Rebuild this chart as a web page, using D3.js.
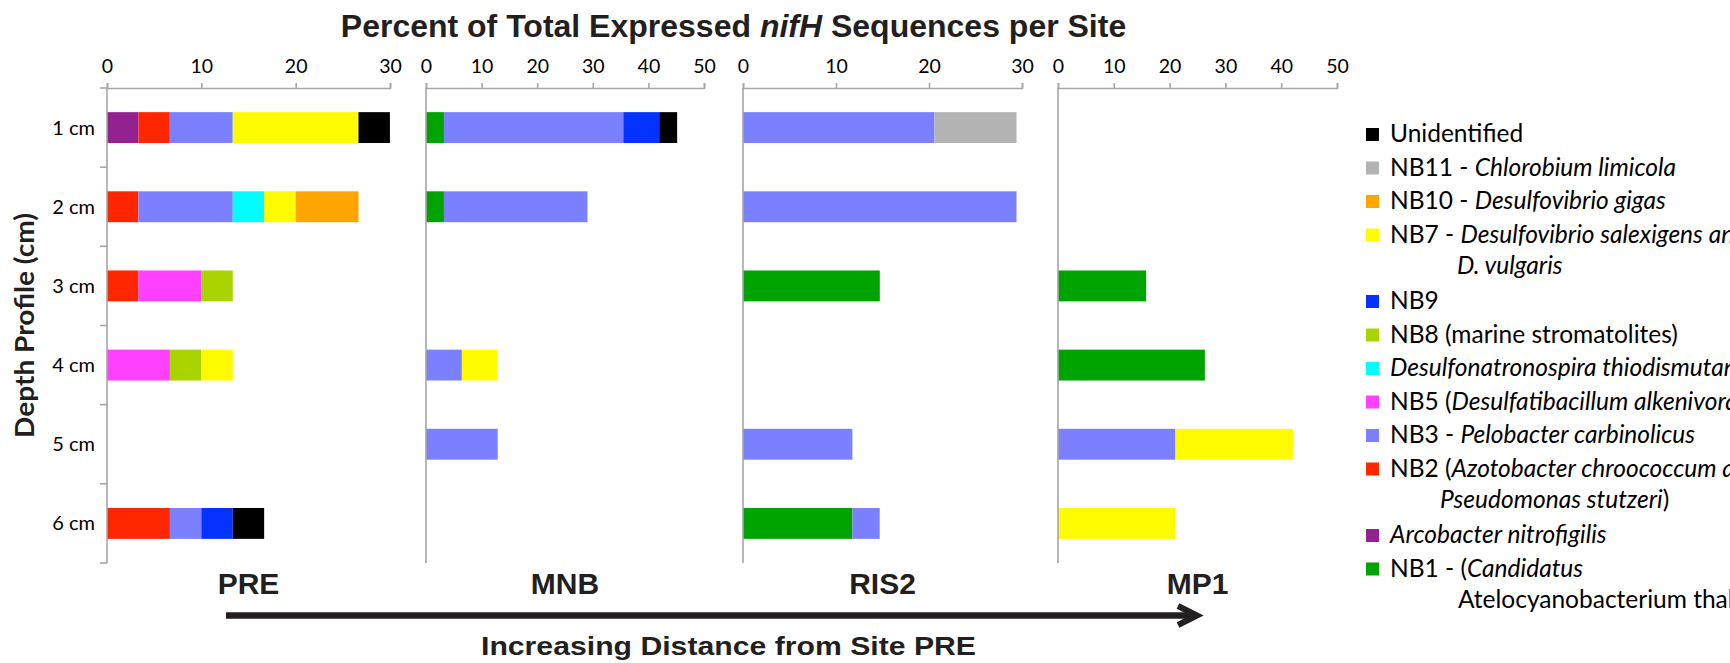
<!DOCTYPE html>
<html>
<head>
<meta charset="utf-8">
<script src="https://cdn.jsdelivr.net/npm/d3@7"></script>
<style>
  html, body { margin: 0; padding: 0; background: #ffffff; }
  svg { display: block; }
</style>
</head>
<body>
<svg id="chart" width="1730" height="663"></svg>
<script>
// ---------------- DATA ----------------
const depths = ["1 cm", "2 cm", "3 cm", "4 cm", "5 cm", "6 cm"];
const sites = ["PRE", "MNB", "RIS2", "MP1"];
const siteMax = [30, 50, 30, 50];
const tickValuesPRE = [0, 10, 20, 30];
const tickValuesMNB = [0, 10, 20, 30, 40, 50];
const tickValuesRIS2 = [0, 10, 20, 30];
const tickValuesMP1 = [0, 10, 20, 30, 40, 50];

// stack order (left to right inside a bar)
const seriesKeys = ["NB1", "Arco", "NB2", "NB3", "NB5", "Desulfonat", "NB8", "NB9", "NB7", "NB10", "NB11", "Unid"];
const seriesColors = ["#00a400", "#93218f", "#ff2600", "#7b80ff", "#ff40ff", "#00fdff", "#aad400", "#0433ff", "#fffb00", "#ffa500", "#b3b3b3", "#000000"];

// percent values per series, columns follow depths (1 cm ... 6 cm)
const valuesPRE = {
  NB1:        [0, 0, 0, 0, 0, 0],
  Arco:       [3.33, 0, 0, 0, 0, 0],
  NB2:        [3.33, 3.33, 3.33, 0, 0, 6.67],
  NB3:        [6.67, 10.0, 0, 0, 0, 3.33],
  NB5:        [0, 0, 6.67, 6.67, 0, 0],
  Desulfonat: [0, 3.33, 0, 0, 0, 0],
  NB8:        [0, 0, 3.33, 3.33, 0, 0],
  NB9:        [0, 0, 0, 0, 0, 3.33],
  NB7:        [13.33, 3.33, 0, 3.33, 0, 0],
  NB10:       [0, 6.67, 0, 0, 0, 0],
  NB11:       [0, 0, 0, 0, 0, 0],
  Unid:       [3.33, 0, 0, 0, 0, 3.33]
};
const valuesMNB = {
  NB1:  [3.23, 3.23, 0, 0, 0, 0],
  NB3:  [32.26, 25.81, 0, 6.45, 12.9, 0],
  NB9:  [6.45, 0, 0, 0, 0, 0],
  NB7:  [0, 0, 0, 6.45, 0, 0],
  Unid: [3.23, 0, 0, 0, 0, 0]
};
const valuesRIS2 = {
  NB1:  [0, 0, 14.71, 0, 0, 11.76],
  NB3:  [20.59, 29.41, 0, 0, 11.76, 2.94],
  NB11: [8.82, 0, 0, 0, 0, 0]
};
const valuesMP1 = {
  NB1: [0, 0, 15.79, 26.32, 0, 0],
  NB3: [0, 0, 0, 0, 21.05, 0],
  NB7: [0, 0, 0, 0, 21.05, 21.05]
};

// legend (top to bottom) : segments [text, italic]
const legendKeys = ["Unid", "NB11", "NB10", "NB7", "NB9", "NB8", "Desulfonat", "NB5", "NB3", "NB2", "Arco", "NB1"];
const legendLine1 = [
  [["Unidentified", false]],
  [["NB11 - ", false], ["Chlorobium limicola", true]],
  [["NB10 - ", false], ["Desulfovibrio gigas", true]],
  [["NB7 - ", false], ["Desulfovibrio salexigens and", true]],
  [["NB9", false]],
  [["NB8 (marine stromatolites)", false]],
  [["Desulfonatronospira thiodismutans", true]],
  [["NB5 (", false], ["Desulfatibacillum alkenivorans", true], [")", false]],
  [["NB3 - ", false], ["Pelobacter carbinolicus", true]],
  [["NB2 (", false], ["Azotobacter chroococcum and", true]],
  [["Arcobacter nitrofigilis", true]],
  [["NB1 - (", false], ["Candidatus", true]]
];
const legendLine2 = [
  null, null, null,
  [["D. vulgaris", true]],
  null, null, null, null, null,
  [["Pseudomonas stutzeri", true], [")", false]],
  null,
  [["Atelocyanobacterium thalassa)", false]]
];

const titleParts = [["Percent of Total Expressed ", false], ["nifH", true], [" Sequences per Site", false]];
const yAxisTitle = "Depth Profile (cm)";
const arrowTitle = "Increasing Distance from Site PRE";

// ---------------- LAYOUT ----------------
const svg = d3.select("#chart");
const plotTop = 88, plotBottom = 563;
const panelLeft = [107, 426, 743, 1058];
const panelWidth = [283, 278, 279, 279];
const siteValues = [valuesPRE, valuesMNB, valuesRIS2, valuesMP1];
const siteTicks = [tickValuesPRE, tickValuesMNB, tickValuesRIS2, tickValuesMP1];
const axisColor = "#a6a6a6";
const colorOf = d3.scaleOrdinal().domain(seriesKeys).range(seriesColors);

const y = d3.scaleBand().domain(depths).range([plotTop, plotBottom])
  .paddingInner(0.61).paddingOuter(0.305);

// Title
const title = svg.append("text")
  .attr("x", 733.5).attr("y", 37)
  .attr("text-anchor", "middle")
  .style("font-family", "'Liberation Sans', Arial, sans-serif")
  .style("font-weight", "bold").style("font-size", "32px").style("fill", "#231f20");
titleParts.forEach(([t, it]) => title.append("tspan").text(t).style("font-style", it ? "italic" : "normal"));

sites.forEach((site, si) => {
  const x = d3.scaleLinear().domain([0, siteMax[si]]).range([panelLeft[si], panelLeft[si] + panelWidth[si]]);
  const vals = siteValues[si];
  const rows = depths.map((d, j) => {
    const r = { depth: d };
    seriesKeys.forEach(k => { r[k] = vals[k] ? vals[k][j] : 0; });
    return r;
  });
  const stacked = d3.stack().keys(seriesKeys)(rows);
  const g = svg.append("g");
  g.selectAll("g.layer").data(stacked).join("g")
    .attr("class", "layer")
    .attr("fill", d => colorOf(d.key))
    .selectAll("rect")
    .data(d => d.filter(p => p[1] - p[0] > 0))
    .join("rect")
    .attr("x", p => x(p[0]))
    .attr("width", p => x(p[1]) - x(p[0]))
    .attr("y", p => y(p.data.depth))
    .attr("height", y.bandwidth());

  // top axis
  const ax = svg.append("g").attr("transform", `translate(0,${plotTop})`)
    .call(d3.axisTop(x).tickValues(siteTicks[si]).tickSize(5).tickSizeOuter(5).tickPadding(10).tickFormat(d3.format("d")));
  ax.select(".domain").attr("stroke", axisColor).attr("stroke-width", 1.6);
  ax.selectAll(".tick line").attr("stroke", axisColor).attr("stroke-width", 1.6);
  ax.selectAll(".tick text").attr("fill", "#000")
    .style("font-family", "Lato, 'Open Sans', sans-serif").style("font-size", "19.5px");

  // vertical axis line
  svg.append("line")
    .attr("x1", x(0)).attr("x2", x(0))
    .attr("y1", plotTop).attr("y2", plotBottom)
    .attr("stroke", axisColor).attr("stroke-width", 1.6);

  // site label
  svg.append("text")
    .attr("x", x(0) + (x.range()[1] - x.range()[0]) / 2).attr("y", 593.5)
    .attr("text-anchor", "middle")
    .style("font-family", "'Liberation Sans', Arial, sans-serif")
    .style("font-weight", "bold").style("font-size", "30px").style("fill", "#231f20")
    .text(site);

  if (si === 0) {
    // depth ticks at band boundaries
    const bounds = d3.range(depths.length + 1).map(k => plotTop + k * y.step());
    svg.append("g").selectAll("line").data(bounds).join("line")
      .attr("x1", x(0) - 7).attr("x2", x(0))
      .attr("y1", d => d).attr("y2", d => d)
      .attr("stroke", axisColor).attr("stroke-width", 1.6);
    svg.append("g").selectAll("text").data(depths).join("text")
      .attr("x", 95).attr("y", d => y(d) + y.bandwidth() / 2)
      .attr("dy", "0.35em")
      .attr("text-anchor", "end")
      .style("font-family", "Lato, 'Open Sans', sans-serif").style("font-size", "20px").style("fill", "#000")
      .text(d => d);
  }
});

// y-axis title
svg.append("text")
  .attr("transform", `translate(34,${(plotTop + plotBottom) / 2}) rotate(-90)`)
  .attr("text-anchor", "middle")
  .attr("textLength", 225).attr("lengthAdjust", "spacingAndGlyphs")
  .style("font-family", "Lato, 'Open Sans', sans-serif")
  .style("font-weight", "bold").style("font-size", "26px").style("fill", "#231f20")
  .text(yAxisTitle);

// arrow
svg.append("line")
  .attr("x1", 226).attr("x2", 1196).attr("y1", 615.5).attr("y2", 615.5)
  .attr("stroke", "#231f20").attr("stroke-width", 6.5);
svg.append("path")
  .attr("d", "M1178,606 L1197,615.5 L1178,625")
  .attr("fill", "none").attr("stroke", "#231f20").attr("stroke-width", 6)
  .attr("stroke-linejoin", "miter").attr("stroke-linecap", "butt");
svg.append("text")
  .attr("x", 481).attr("y", 655)
  .attr("textLength", 495).attr("lengthAdjust", "spacingAndGlyphs")
  .style("font-family", "'Liberation Sans', Arial, sans-serif")
  .style("font-weight", "bold").style("font-size", "25px").style("fill", "#231f20")
  .text(arrowTitle);

// legend
const legendIndent = { NB7: 67, NB2: 50, NB1: 68 };
const legX = 1366, textX = 1390, sq = 13;
let ly = 134.5;
const step = 33.5, extra = 33, line2Gap = 31;
legendKeys.forEach((k, i) => {
  const g = svg.append("g");
  g.append("rect").attr("x", legX).attr("y", ly - sq / 2).attr("width", sq).attr("height", sq)
    .attr("fill", colorOf(k));
  const t1 = g.append("text").attr("x", textX).attr("y", ly + 7.5)
    .style("font-family", "Lato, 'Open Sans', sans-serif").style("font-size", "24.5px").style("fill", "#000");
  legendLine1[i].forEach(([t, it]) => t1.append("tspan").text(t).style("font-style", it ? "italic" : "normal"));
  if (legendLine2[i]) {
    const t2 = g.append("text").attr("x", textX + legendIndent[k]).attr("y", ly + 7.5 + line2Gap)
      .style("font-family", "Lato, 'Open Sans', sans-serif").style("font-size", "24.5px").style("fill", "#000");
    legendLine2[i].forEach(([t, it]) => t2.append("tspan").text(t).style("font-style", it ? "italic" : "normal"));
    ly += extra;
  }
  ly += step;
});
</script>
</body>
</html>
